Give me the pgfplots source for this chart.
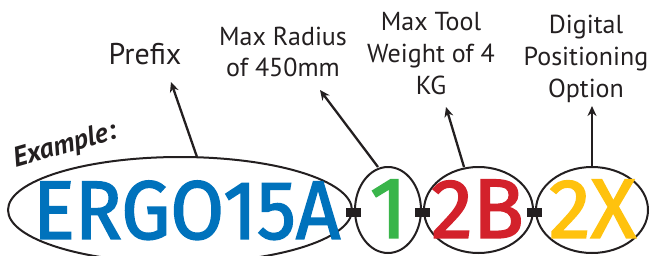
\documentclass[border=0pt]{standalone}
\usepackage{pgfplots}
\pgfplotsset{compat=1.18}
\usetikzlibrary{arrows.meta}
\usepackage{fontspec}
\setmainfont{PT Sans}
\newfontfamily\bigfont{Fira Sans}[FakeBold=2]
\definecolor{txt}{RGB}{35,31,32}
\definecolor{cblue}{RGB}{0,114,188}
\definecolor{cgreen}{RGB}{57,181,74}
\definecolor{cred}{RGB}{211,33,43}
\definecolor{cyellow}{RGB}{255,194,14}
\begin{document}
\begin{tikzpicture}
\useasboundingbox (0,0) rectangle (651pt,255pt);
\clip (0,0) rectangle (651pt,255pt);
\begin{axis}[
  at={(0,0)}, anchor=south west,
  scale only axis, width=651pt, height=255pt,
  xmin=0, xmax=651, ymin=0, ymax=255, y dir=reverse,
  hide axis, clip=false,
]
% connecting dashes
\addplot[txt, line width=9pt, forget plot] coordinates {(344,212.5) (363,212.5)};
\addplot[txt, line width=9pt, forget plot] coordinates {(413,212.5) (432,212.5)};
\addplot[txt, line width=9pt, forget plot] coordinates {(525,212.5) (544,212.5)};
% ellipses
\draw[txt, line width=2pt, fill=white] (axis cs:180,210) ellipse [x radius=172pt, y radius=53pt];
\draw[txt, line width=2pt, fill=white] (axis cs:388,210) ellipse [x radius=33pt, y radius=43pt];
\draw[txt, line width=2pt, fill=white] (axis cs:478.5,210) ellipse [x radius=54.5pt, y radius=43pt];
\draw[txt, line width=2pt, fill=white] (axis cs:592,210) ellipse [x radius=56pt, y radius=43pt];
% redraw dash centres over ellipse edges
\addplot[txt, line width=9pt, forget plot] coordinates {(346,212.5) (361,212.5)};
\addplot[txt, line width=9pt, forget plot] coordinates {(415,212.5) (430,212.5)};
\addplot[txt, line width=9pt, forget plot] coordinates {(527,212.5) (542,212.5)};
% arrows
\addplot[txt, line width=2.3pt, -{Stealth[length=10pt,width=9pt]}, forget plot] coordinates {(197,157) (171,82)};
\addplot[txt, line width=2.3pt, -{Stealth[length=10pt,width=9pt]}, forget plot] coordinates {(378,167) (320,90)};
\addplot[txt, line width=2.3pt, -{Stealth[length=10pt,width=9pt]}, forget plot] coordinates {(464,167) (446,107)};
\addplot[txt, line width=2.3pt, -{Stealth[length=10pt,width=9pt]}, forget plot] coordinates {(592,167) (592,106)};
% big code letters
\node[anchor=south west, inner sep=0pt, text=cblue] at (axis cs:33,240) {\resizebox{307pt}{58pt}{\bigfont ERGO15A}};
\node[anchor=south, inner sep=0pt, text=cgreen] at (axis cs:388.5,238) {\resizebox{!}{58pt}{\bigfont 1}};
\node[anchor=south, inner sep=0pt, text=cred] at (axis cs:477.5,238) {\resizebox{!}{58pt}{\bigfont 2B}};
\node[anchor=south, inner sep=0pt, text=cyellow] at (axis cs:592.5,238) {\resizebox{!}{58pt}{\bigfont 2X}};
% example label
\node[rotate=16, inner sep=0pt, text=txt] at (axis cs:65,146) {\fontsize{28}{32}\selectfont\bfseries\itshape Example:};
% labels
\node[anchor=base, inner sep=0pt, text=txt] at (axis cs:145,64) {\fontsize{30}{34}\selectfont Prefix};
\node[anchor=base, inner sep=0pt, text=txt] at (axis cs:283,45) {\fontsize{26}{31}\selectfont Max Radius};
\node[anchor=base, inner sep=0pt, text=txt] at (axis cs:283,76) {\fontsize{26}{31}\selectfont of 450mm};
\node[anchor=base, inner sep=0pt, text=txt] at (axis cs:431,30) {\fontsize{26}{31}\selectfont Max Tool};
\node[anchor=base, inner sep=0pt, text=txt] at (axis cs:431,62) {\fontsize{26}{31}\selectfont Weight of 4};
\node[anchor=base, inner sep=0pt, text=txt] at (axis cs:431,94) {\fontsize{26}{31}\selectfont KG};
\node[anchor=base, inner sep=0pt, text=txt] at (axis cs:586,33) {\fontsize{26}{31}\selectfont Digital};
\node[anchor=base, inner sep=0pt, text=txt] at (axis cs:586,65) {\fontsize{26}{31}\selectfont Positioning};
\node[anchor=base, inner sep=0pt, text=txt] at (axis cs:586,97) {\fontsize{26}{31}\selectfont Option};
\end{axis}
\end{tikzpicture}
\end{document}
